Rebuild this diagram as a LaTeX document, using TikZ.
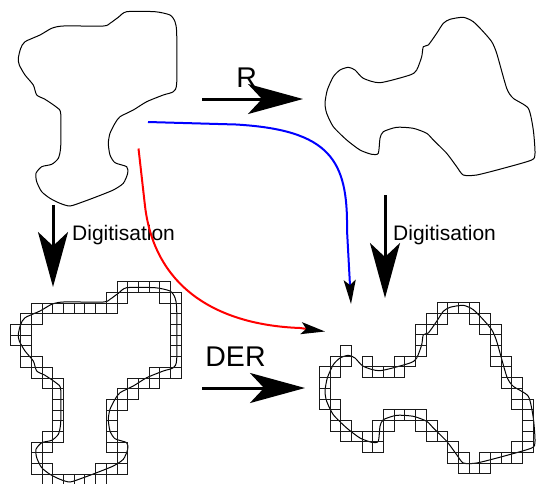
\documentclass[tikz,border=0pt]{standalone}
\usepackage{fontspec}
\setmainfont{Liberation Sans}
\usetikzlibrary{positioning, arrows.meta}

\tikzset{
  outline/.style={line width=1pt, line join=round},
  cell/.style={line width=1pt, draw=black!90},
  bigarrow/.style={line width=3pt, -{Stealth[length=55pt, width=30pt, inset=14pt]}},
  smallarrow/.style={line width=2pt, -{Stealth[length=24pt, width=12pt, inset=5pt, color=black]}},
  lbl/.style={font=\fontsize{21}{24}\selectfont, anchor=base west, inner sep=0pt},
  biglbl/.style={font=\fontsize{28.5}{32}\selectfont, anchor=base, inner sep=0pt},
  % the two outlines, drawn twice
  blobL/.pic={
    \draw[outline] plot[smooth cycle, tension=0.4] coordinates {
      (126.7,11.7) (155,11.7) (170,15) (175,21.7) (176.7,33.3) (176.7,83.3)
      (173.3,91.7) (163.3,95) (146.7,101.7) (133.3,110) (120,116.7) (115,123.3)
      (110,133.3) (108.3,143.3) (110,155) (115,162.7) (126.7,166.7) (127.7,173.3)
      (123.3,183.3) (113.3,190) (96.7,196.7) (83.3,201.7) (70,206) (60,203.3)
      (50,198.3) (41.7,191.7) (36.7,181.7) (36,173.3) (41.7,166.7) (51.7,164.3)
      (58.3,158.3) (60.7,146.7) (60.7,113.3) (56.7,107.3) (45,99.3) (36.7,95)
      (33.3,85) (25,75) (19.3,65) (18.3,58.3) (20.7,48.3) (25,41.7) (40,35)
      (51.7,28.3) (63.3,26) (103.3,26) (110,23.3) (118.3,17.3)};
  },
  blobR/.pic={
    \draw[outline] plot[smooth cycle, tension=0.4] coordinates {
      (443.3,23.3) (450,19.3) (463.3,17.3) (473.3,21.7) (483.3,31.7) (491.7,41.7)
      (496.7,53.3) (506.7,88.3) (513.3,98.3) (528.3,108.3) (533.3,130) (535,153.3)
      (531.7,160) (503.3,168.3) (476.7,175) (463.3,175) (456.7,166.7) (446.7,153.3)
      (433.3,140) (426.7,133.3) (413.3,128.3) (396.7,127.3) (383.3,131.7) (380,138.3)
      (378.3,153.3) (371.7,154.3) (360,150) (346.7,140) (333.3,126.7) (326.7,113.3)
      (325,103.3) (327.3,90) (333.3,76.7) (340,70) (348.3,67.3) (355,70) (363.3,78.3)
      (380,82.7) (410,75) (416.7,70) (421.7,56.7) (423.3,46.7) (428.3,45) (436.7,33.3)};
  }
}

\begin{document}
\begin{tikzpicture}[x=1pt, y=-1pt]
  \useasboundingbox (0,0) rectangle (536,483);

  % outlines: original, rotated, and under the grids
  \pic (origL) at (0,0) {blobL};
  \pic (origR) at (0,0) {blobR};
  \pic (gridL) at (0,276) {blobL};
  \pic (gridR) at (0,288) {blobR};

  % digitised cells, left
  \begin{scope}[shift={(10,281.7)}, x=10.7pt, y=-10.7pt]
    \foreach \r/\cs in {0/{10,...,14}, 1/{9,10,14,15}, 2/{2,...,9,15}, 3/{1,2,15},
        4/{0,1,15}, 5/{0,1,15}, 6/{1,15}, 7/{1,2,15}, 8/{2,3,13,14,15},
        9/{3,4,11,12,13}, 10/{4,10,11}, 11/{4,9,10}, 12/{4,9}, 13/{4,9},
        14/{3,4,9}, 15/{2,3,9,10}, 16/{2,10}, 17/{2,3,8,9,10}, 18/{3,...,8}}
      \foreach \c in \cs
        \draw[cell] (\c,\r) rectangle ++(1,1);
  \end{scope}

  % digitised cells, right
  \begin{scope}[shift={(319.3,302.7)}, x=10.7pt, y=-10.7pt]
    \foreach \r/\cs in {0/{11,...,14}, 1/{10,11,14,15}, 2/{9,10,15,16}, 3/{9,16},
        4/{2,9,16}, 5/{1,2,4,7,8,16,17}, 6/{0,1,4,5,6,7,17}, 7/{0,17,18},
        8/{0,18}, 9/{0,1,18,19}, 10/{1,6,7,8,9,19}, 11/{1,2,5,6,9,10,19},
        12/{2,3,4,5,10,11,19}, 13/{4,5,12,18,19}, 14/{12,13,15,16,17,18},
        15/{13,14,15}}
      \foreach \c in \cs
        \draw[cell] (\c,\r) rectangle ++(1,1);
  \end{scope}

  \coordinate (Rtail) at (202,99);
  \coordinate (Rhead) at (303,99);
  \coordinate (DERtail) at (202,388);
  \coordinate (DERhead) at (305,388);
  \coordinate (digLtail) at (53,205);
  \coordinate (digLhead) at (53,287);
  \coordinate (digRtail) at (385,195);
  \coordinate (digRhead) at (385,298);
  \coordinate (bluestart) at (148,122);
  \coordinate (blueend) at (351,304);
  \coordinate (redstart) at (138.5,148.5);
  \coordinate (redend) at (325,331.5);

  \draw[bigarrow] (Rtail) -- (Rhead);
  \draw[bigarrow] (DERtail) -- (DERhead);
  \draw[bigarrow] (digLtail) -- (digLhead);
  \draw[bigarrow] (digRtail) -- (digRhead);

  \node[biglbl] (Rlabel) at (246.7,87) {R};
  \node[biglbl] (DERlabel) at (235.5,366) {DER};
  \node[lbl] (digLlabel) at (72,240.5) {Digitisation};
  \node[lbl] (digRlabel) at (393,240.5) {Digitisation};

  \draw[smallarrow, blue] (bluestart) -- (236,124.5)
    .. controls (330,130) and (348,160) .. (347,230) -- (blueend);
  \draw[smallarrow, red] (redstart) -- (145,206)
    .. controls (155,290) and (220,325) .. (300,328) -- (redend);
\end{tikzpicture}
\end{document}
